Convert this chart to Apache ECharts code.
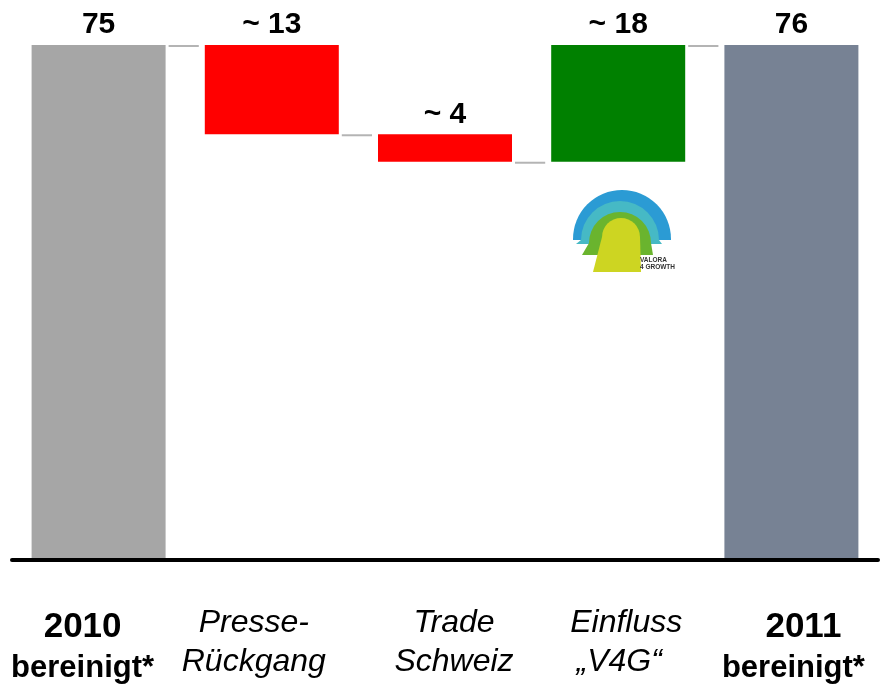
<!DOCTYPE html>
<html>
<head>
<meta charset="utf-8">
<script src="https://cdn.jsdelivr.net/npm/echarts@6/dist/echarts.min.js"></script>
<style>
    html, body { margin: 0; padding: 0; background: #fff; }
    #chart { width: 883px; height: 684px; }
</style>
</head>
<body>
<div id="chart"></div>
<script>
    // categories, two lines each
    var categories = [
        ['2010', 'bereinigt*'],
        ['Presse-', 'Rückgang'],
        ['Trade', 'Schweiz'],
        ['Einfluss', '„V4G“'],
        ['2011', 'bereinigt*']
    ];
    var valueLabels = ['75', '~ 13', '~ 4', '~ 18', '76'];
    // levels of the bars as drawn (bottom / top)
    var barBottom = [0, 62, 58, 58, 0];
    var barTop = [75, 75, 62, 75, 75];
    // grey step lines between bars
    var connectorLevels = [75, 62, 58, 75];

    var barColors = ['#a6a6a6', '#ff0000', '#ff0000', '#008000', '#778294'];
    var boldCats = [true, false, false, false, true];
    // horizontal offset of each label line (px), first / second line
    var lineShift = [[-16, -16], [-18, -18], [9, 9], [8, 1], [12, 2]];
    var BAR_W = 134;

    var font = "'Liberation Sans', Arial, sans-serif";

    var rich = {};
    categories.forEach(function (c, i) {
        [0, 1].forEach(function (j) {
            var s = lineShift[i][j];
            var pad = s < 0 ? [0, -2 * s, 0, 0] : [0, 0, 0, 2 * s];
            var st;
            if (boldCats[i]) {
                st = j === 0
                    ? {fontSize: 35, fontWeight: 'bold', lineHeight: 47}
                    : {fontSize: 31, fontWeight: 'bold', lineHeight: 34};
            } else {
                st = {fontSize: 32, fontStyle: 'italic', lineHeight: 39};
            }
            st.fontFamily = font;
            st.color = '#000';
            st.padding = pad;
            rich['c' + i + '_' + j] = st;
        });
    });

    var helper = barBottom.slice();
    var body = barTop.map(function (t, i) { return t - barBottom[i]; });
    var connectorData = connectorLevels.map(function (v, i) { return [i, v]; });

    // little arch for the logo: half disc + flared foot
    function arch(cx, cy, r, foot, color) {
        return [
            {type: 'sector', shape: {cx: cx, cy: cy, r: r, startAngle: Math.PI, endAngle: Math.PI * 2},
                style: {fill: color}},
            {type: 'polygon', shape: {points: foot}, style: {fill: color}}
        ];
    }

    var logo = [].concat(
        arch(622, 239, 49, [[573, 239], [671, 239], [671, 240], [573, 240]], '#2b9bd4'),
        arch(620, 240, 39, [[581, 240], [659, 240], [662, 244], [576, 244]], '#46b9c5'),
        arch(620, 243, 31, [[589, 243], [651, 243], [653, 255], [582, 255]], '#6ab42e'),
        arch(621, 237, 19, [[602, 237], [640, 237], [641, 272], [593, 272]], '#cdd522'),
        [
            {type: 'text', x: 640, y: 257, style: {text: 'VALORA', fontSize: 6.5, fontWeight: 'bold', fontFamily: font, fill: '#333'}},
            {type: 'text', x: 640, y: 264, style: {text: '4 GROWTH', fontSize: 6.5, fontWeight: 'bold', fontFamily: font, fill: '#333'}}
        ]
    );

    var chart = echarts.init(document.getElementById('chart'));
    var option = {
        animation: false,
        grid: {left: 12, right: 5, top: 45, bottom: 124, containLabel: false},
        xAxis: {
            type: 'category',
            data: categories.map(function (c) { return c.join('\n'); }),
            z: 10,
            axisLine: {lineStyle: {color: '#000', width: 4}},
            axisTick: {show: false},
            axisLabel: {
                interval: 0,
                margin: 44,
                formatter: function (v, idx) {
                    var c = categories[idx];
                    return '{c' + idx + '_0|' + c[0] + '}\n{c' + idx + '_1|' + c[1] + '}';
                },
                rich: rich
            },
            splitLine: {show: false}
        },
        yAxis: {
            type: 'value',
            min: 0,
            max: 75,
            show: false,
            splitLine: {show: false}
        },
        series: [
            {
                type: 'bar',
                stack: 'w',
                barWidth: BAR_W,
                itemStyle: {color: 'rgba(0,0,0,0)'},
                silent: true,
                data: helper
            },
            {
                type: 'bar',
                stack: 'w',
                barWidth: BAR_W,
                data: body.map(function (v, i) {
                    return {value: v, itemStyle: {color: barColors[i]}};
                }),
                label: {
                    show: true,
                    position: 'top',
                    distance: 5,
                    fontFamily: font,
                    fontSize: 30,
                    fontWeight: 'bold',
                    color: '#000',
                    formatter: function (p) { return valueLabels[p.dataIndex]; }
                }
            },
            {
                type: 'custom',
                data: connectorData,
                encode: {x: 0, y: 1},
                renderItem: function (params, api) {
                    var i = api.value(0);
                    var lvl = api.value(1);
                    var p0 = api.coord([i, lvl]);
                    var p1 = api.coord([i + 1, lvl]);
                    return {
                        type: 'line',
                        shape: {
                            x1: p0[0] + BAR_W / 2 + 3, y1: p0[1] + 1,
                            x2: p1[0] - BAR_W / 2 - 6, y2: p1[1] + 1
                        },
                        style: {stroke: '#b4b4b4', lineWidth: 2}
                    };
                }
            }
        ],
        graphic: logo
    };
    chart.setOption(option);
</script>
</body>
</html>
